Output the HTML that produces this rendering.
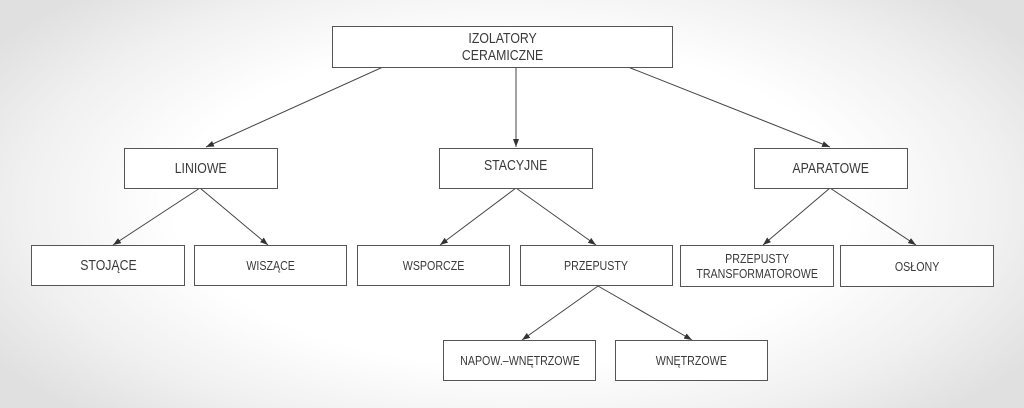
<!DOCTYPE html>
<html><head><meta charset="utf-8"><style>
html,body{margin:0;padding:0}
body{width:1024px;height:408px;overflow:hidden;background:radial-gradient(ellipse 60% 72% at 50% 50%,#ffffff 55%,#f0f0f0 80%,#e0e0e0 100%);position:relative;font-family:"Liberation Sans",sans-serif;color:#3a3a3a}
.b{position:absolute;border:1.3px solid #555;background:#fff;box-sizing:border-box;display:flex;align-items:center;justify-content:center;text-align:center;font-size:13px;line-height:15px}
.b span{display:inline-block;transform:scaleX(0.82);white-space:nowrap}
svg{position:absolute;left:0;top:0}
</style></head><body>
<svg width="1024" height="408">
<defs><marker id="a" markerWidth="8" markerHeight="6" refX="8" refY="3" orient="auto" markerUnits="userSpaceOnUse"><path d="M0,0 L8,3 L0,6 z" fill="#333"/></marker></defs>
<g stroke="#444" stroke-width="1" fill="none" marker-end="url(#a)">
<line x1="383" y1="67" x2="206" y2="147"/>
<line x1="516" y1="67" x2="516" y2="147"/>
<line x1="628" y1="67" x2="830" y2="147"/>
<line x1="200" y1="188" x2="113" y2="245"/>
<line x1="200" y1="188" x2="268" y2="245"/>
<line x1="516" y1="188" x2="440" y2="245"/>
<line x1="516" y1="188" x2="596" y2="245"/>
<line x1="830" y1="188" x2="763" y2="245"/>
<line x1="830" y1="188" x2="916" y2="245"/>
<line x1="598" y1="286" x2="522" y2="340"/>
<line x1="598" y1="286" x2="692" y2="340"/>
</g></svg>
<div class="b" style="left:332px;top:26px;width:341px;height:42px;font-size:15px;line-height:17px"><span>IZOLATORY<br>CERAMICZNE</span></div>
<div class="b" style="left:124px;top:148px;width:154px;height:41px;font-size:15px"><span>LINIOWE</span></div>
<div class="b" style="left:439px;top:148px;width:154px;height:41px;font-size:15px"><span style="margin-top:-6px">STACYJNE</span></div>
<div class="b" style="left:754px;top:148px;width:154px;height:41px;font-size:15px"><span>APARATOWE</span></div>
<div class="b" style="left:31px;top:245px;width:154px;height:41px;font-size:15px"><span>STOJĄCE</span></div>
<div class="b" style="left:194px;top:245px;width:153px;height:41px;font-size:13px"><span>WISZĄCE</span></div>
<div class="b" style="left:357px;top:245px;width:153px;height:41px;font-size:13px"><span>WSPORCZE</span></div>
<div class="b" style="left:520px;top:245px;width:153px;height:41px;font-size:13px"><span>PRZEPUSTY</span></div>
<div class="b" style="left:680px;top:245px;width:154px;height:42px;font-size:13px;line-height:15px"><span>PRZEPUSTY<br>TRANSFORMATOROWE</span></div>
<div class="b" style="left:840px;top:245px;width:154px;height:42px;font-size:13px"><span>OSŁONY</span></div>
<div class="b" style="left:443px;top:340px;width:153px;height:41px;font-size:13px"><span>NAPOW.–WNĘTRZOWE</span></div>
<div class="b" style="left:615px;top:340px;width:153px;height:41px;font-size:13px"><span>WNĘTRZOWE</span></div>
</body></html>
